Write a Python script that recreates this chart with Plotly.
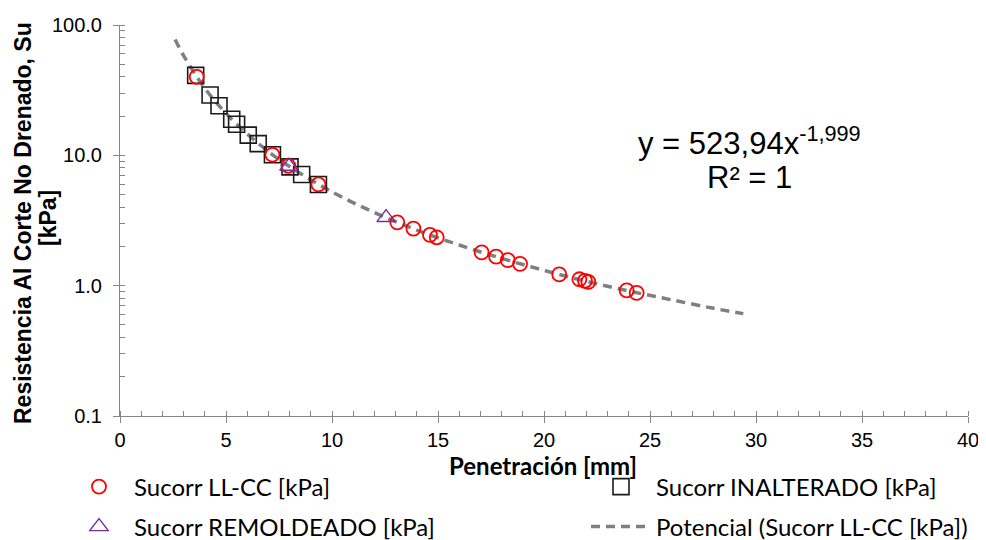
import plotly.graph_objects as go

# ──────────────────────────────────────────────────────────────────────
# Data
# ──────────────────────────────────────────────────────────────────────
llcc_pen = [3.62, 7.19, 7.94, 9.36, 13.08, 13.84, 14.62, 14.94, 17.06, 17.74,
            18.29, 18.87, 20.72, 21.67, 21.93, 22.09, 23.90, 24.37]
llcc_su = [40.0, 10.1, 8.31, 5.98, 3.06, 2.74, 2.45, 2.35, 1.80, 1.67,
           1.57, 1.47, 1.22, 1.12, 1.09, 1.07, 0.92, 0.88]

inalt_pen = [3.57, 4.25, 4.67, 5.27, 5.50, 6.05, 6.52, 7.19, 8.02, 8.57, 9.36]
inalt_su = [41.1, 29.0, 24.0, 18.9, 17.3, 14.3, 12.3, 10.1, 8.15, 7.13, 5.98]

remol_pen = [7.97, 12.55]
remol_su = [8.25, 3.33]

trend_pen = [2.6, 3, 4, 5, 6, 7, 8, 10, 12, 14, 16, 18, 20, 22, 24, 26, 28, 29.4]
trend_su = [77.5, 58.2, 32.7, 21.0, 14.6, 10.7, 8.2, 5.24, 3.64, 2.67, 2.05,
            1.62, 1.31, 1.08, 0.91, 0.78, 0.67, 0.61]

y_ticks = [0.1, 1, 10, 100]
y_ticktext = ["0.1", "1.0", "10.0", "100.0"]

LEGEND_FONT = "Lato, Noto Sans, Liberation Sans"
ARIAL = "Liberation Sans, Arial"
AXIS_GREY = "#868686"

W, H = 986, 540
PAGE_OFFSET = 8  # the page body margin shifts the figure by this much
PLOT_L, PLOT_R, PLOT_T, PLOT_B = 120, 968, 25, 416  # on-screen pixels


def fx(p):
    return p - PAGE_OFFSET


def cx(p):
    return fx(p) / W


def cy(p):
    return 1 - fx(p) / H


def px_x(p):
    return (p - PLOT_L) / (PLOT_R - PLOT_L)


def px_y(p):
    return (PLOT_B - p) / (PLOT_B - PLOT_T)


fig = go.Figure()

fig.add_trace(go.Scatter(
    x=trend_pen, y=trend_su, mode="lines", line_shape="spline",
    name="Potencial (Sucorr LL-CC [kPa])",
    line=dict(color="#7f7f7f", width=3.5, dash="9px,6px"),
    legend="legend4",
))
fig.add_trace(go.Scatter(
    x=inalt_pen, y=inalt_su, mode="markers", name="Sucorr INALTERADO [kPa]",
    marker=dict(symbol="square-open", size=16, color="#1a1a1a", line=dict(width=1.6)),
    legend="legend2",
))
fig.add_trace(go.Scatter(
    x=llcc_pen, y=llcc_su, mode="markers", name="Sucorr LL-CC [kPa]",
    marker=dict(symbol="circle-open", size=14, color="#ff0000", line=dict(width=1.8)),
    legend="legend",
))
fig.add_trace(go.Scatter(
    x=remol_pen, y=remol_su, mode="markers", name="Sucorr REMOLDEADO [kPa]",
    marker=dict(symbol="triangle-up-open", size=16, color="#7030a0", line=dict(width=1.4)),
    legend="legend3",
))

# trendline equation
fig.add_annotation(
    x=px_x(749), y=px_y(141), xref="paper", yref="paper", showarrow=False,
    text="y = 523,94x<sup>-1,999</sup>",
    font=dict(family=ARIAL, size=31, color="black"),
    xanchor="center", yanchor="middle",
)
fig.add_annotation(
    x=px_x(749), y=px_y(177), xref="paper", yref="paper", showarrow=False,
    text="R² = 1",
    font=dict(family=ARIAL, size=31, color="black"),
    xanchor="center", yanchor="middle",
)

# axis titles
fig.add_annotation(
    x=px_x(23), y=px_y(223), xref="paper", yref="paper", showarrow=False,
    text="<b>Resistencia Al Corte No Drenado, Su</b>", textangle=-90,
    font=dict(family=ARIAL, size=23, color="black"),
    xanchor="center", yanchor="middle",
)
fig.add_annotation(
    x=px_x(48), y=px_y(218), xref="paper", yref="paper", showarrow=False,
    text="<b>[kPa]</b>", textangle=-90,
    font=dict(family=ARIAL, size=23, color="black"),
    xanchor="center", yanchor="middle",
)
fig.add_annotation(
    x=px_x(543), y=px_y(465), xref="paper", yref="paper", showarrow=False,
    text="<b>Penetración [mm]</b>",
    font=dict(family=LEGEND_FONT, size=24, color="black"),
    xanchor="center", yanchor="middle",
)

legend_common = dict(
    font=dict(family=LEGEND_FONT, size=24, color="black"),
    bgcolor="rgba(0,0,0,0)", itemwidth=60,
    xanchor="left", yanchor="middle", yref="container", xref="container",
)

fig.update_layout(
    width=W,
    height=H,
    margin=dict(l=fx(PLOT_L), r=W - fx(PLOT_R), t=fx(PLOT_T), b=H - fx(PLOT_B),
                autoexpand=False),
    plot_bgcolor="white",
    paper_bgcolor="white",
    showlegend=True,
    legend=dict(x=cx(64), y=cy(487), **legend_common),
    legend2=dict(x=cx(586), y=cy(487), **legend_common),
    legend3=dict(x=cx(64), y=cy(527), **legend_common),
    legend4=dict(x=cx(586), y=cy(527), **legend_common),
    xaxis=dict(
        range=[0, 40], dtick=5, showgrid=False, zeroline=False, automargin=False,
        showline=True, linecolor=AXIS_GREY, linewidth=1,
        ticks="outside", ticklen=6, tickcolor=AXIS_GREY,
        minor=dict(dtick=1, ticks="inside", ticklen=5, tickcolor=AXIS_GREY, showgrid=False),
        tickfont=dict(family=ARIAL, size=20, color="black"),
    ),
    yaxis=dict(
        type="log", range=[-1, 2], tickvals=y_ticks, ticktext=y_ticktext,
        showgrid=False, zeroline=False, automargin=False,
        showline=True, linecolor=AXIS_GREY, linewidth=1,
        ticks="outside", ticklen=6, tickcolor=AXIS_GREY, ticklabelstandoff=7,
        minor=dict(dtick="D1", ticks="inside", ticklen=5, tickcolor=AXIS_GREY, showgrid=False),
        tickfont=dict(family=ARIAL, size=20, color="black"),
    ),
)

fig.write_html("out.html")
